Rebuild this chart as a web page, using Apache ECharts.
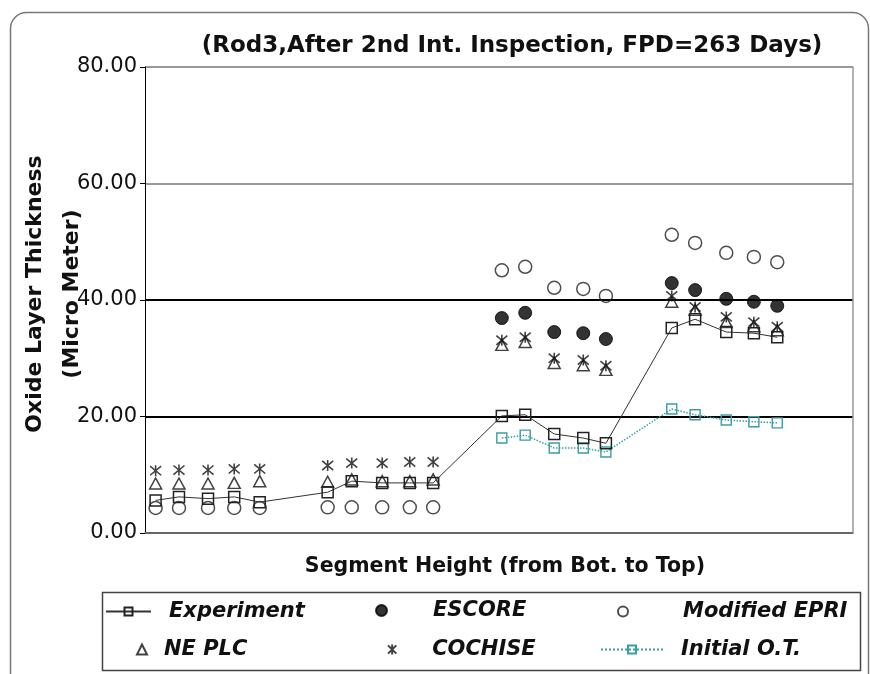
<!DOCTYPE html>
<html>
<head>
<meta charset="utf-8">
<script src="https://cdn.jsdelivr.net/npm/echarts@6/dist/echarts.min.js"></script>
<style>html,body{margin:0;padding:0;background:#fff;}#c{width:870px;height:674px;}</style>
</head>
<body>
<div id="c"></div>
<script>
// Segment positions (relative height units along the rod, 0-100)
var segX = [1.5,4.8,8.9,12.6,16.2, 25.8,29.2,33.5,37.4,40.7, 50.4,53.7,57.8,61.9,65.1, 74.4,77.7,82.1,86.0,89.3];
var experiment = [5.6,6.2,5.9,6.2,5.3, 7.0,8.9,8.6,8.6,8.6, 20.1,20.3,17.0,16.3,15.4, 35.2,36.7,34.5,34.3,33.6];
var escore = [null,null,null,null,null, null,null,null,null,null, 36.9,37.8,34.5,34.3,33.3, 42.9,41.7,40.2,39.7,39.0];
var modEpri = [4.3,4.3,4.3,4.3,4.3, 4.4,4.4,4.4,4.4,4.4, 45.1,45.7,42.1,41.9,40.7, 51.2,49.8,48.1,47.4,46.5];
var nePlc = [8.5,8.5,8.5,8.6,8.9, 8.8,9.2,8.9,8.9,9.2, 32.3,32.8,29.2,28.8,28.0, 39.7,38.3,36.2,35.5,34.8];
var cochise = [10.7,10.8,10.8,11.0,11.0, 11.6,12.0,12.0,12.2,12.2, 33.1,33.6,30.0,29.7,28.7, 40.7,38.8,37.1,36.2,35.4];
var initialOT = [null,null,null,null,null, null,null,null,null,null, 16.3,16.8,14.6,14.6,13.9, 21.3,20.3,19.4,19.1,18.9];
var yTicks = [0, 20, 40, 60, 80];

function pairs(vals) {
  var out = [];
  for (var i = 0; i < vals.length; i++) {
    if (vals[i] !== null) out.push([segX[i], vals[i]]);
  }
  return out;
}

var FONT = 'DejaVu Sans';
var asterisk = 'path://M0,0L10,10M10,0L0,10M5,-1L5,11';
var teal = '#3a9ea3';

function leg(name, icon, left, top, w, h, pad) {
  var item = {name: name};
  if (icon) item.icon = icon;
  return {data: [item], left: left, top: top, itemWidth: w, itemHeight: h, itemGap: 0, padding: 0,
    selectedMode: false,
    textStyle: {fontFamily: FONT, fontSize: 21, fontWeight: 'bold', fontStyle: 'italic', color: '#111',
      padding: [0, 0, 0, pad]}};
}

var chart = echarts.init(document.getElementById('c'), null, {renderer: 'canvas'});
chart.setOption({
  animation: false,
  backgroundColor: '#fff',
  grid: {left: 145, right: 17, top: 67, bottom: 141},
  xAxis: {
    type: 'value', min: 0, max: 100,
    axisLine: {show: true, lineStyle: {color: '#888', width: 1.5}},
    axisTick: {show: false}, axisLabel: {show: false}, splitLine: {show: false}
  },
  yAxis: [{
    type: 'value', min: yTicks[0], max: yTicks[yTicks.length - 1], interval: 20,
    axisLine: {show: true, lineStyle: {color: '#000', width: 1}},
    axisTick: {show: true, inside: false, length: 5, lineStyle: {color: '#000'}},
    axisLabel: {margin: 8, fontFamily: FONT, fontSize: 21, color: '#111',
      formatter: function (v) { return v.toFixed(2); }},
    splitLine: {show: true, lineStyle: {color: ['#000', '#000', '#000', '#999', '#999'], width: 1.8}}
  }, {
    type: 'value', min: 0, max: 80, position: 'right',
    axisLine: {show: true, lineStyle: {color: '#999', width: 1.5}},
    axisTick: {show: false}, axisLabel: {show: false}, splitLine: {show: false}
  }],
  legend: [
    leg('Experiment', null, 105, 601, 45, 10, 13),
    leg('ESCORE', 'circle', 375, 600, 11, 11, 41),
    leg('Modified EPRI', 'circle', 617, 601, 10, 10, 50),
    leg('NE PLC', 'triangle', 136, 639, 10, 10, 12),
    leg('COCHISE', asterisk, 387, 639, 10, 10, 30),
    leg('Initial O.T.', null, 600, 639, 62, 10, 13)
  ],
  series: [
    {name: 'Modified EPRI', type: 'scatter', data: pairs(modEpri), symbol: 'circle', symbolSize: 13,
      itemStyle: {color: 'rgba(0,0,0,0)', borderColor: '#222', borderWidth: 1.5}},
    {name: 'ESCORE', type: 'scatter', data: pairs(escore), symbol: 'circle', symbolSize: 13,
      itemStyle: {color: '#000', borderColor: '#000', borderWidth: 1}},
    {name: 'Initial O.T.', type: 'line', data: pairs(initialOT), symbol: 'rect', symbolSize: 10,
      lineStyle: {color: teal, width: 1.5, type: 'dotted'},
      itemStyle: {color: 'rgba(0,0,0,0)', borderColor: teal, borderWidth: 1.4}},
    {name: 'Experiment', type: 'line', data: pairs(experiment), symbol: 'rect', symbolSize: 11,
      lineStyle: {color: '#333', width: 1},
      itemStyle: {color: 'rgba(255,255,255,0)', borderColor: '#222', borderWidth: 1.5}},
    {name: 'NE PLC', type: 'scatter', data: pairs(nePlc), symbol: 'triangle', symbolSize: [12, 11],
      itemStyle: {color: 'rgba(0,0,0,0)', borderColor: '#111', borderWidth: 1.5}},
    {name: 'COCHISE', type: 'scatter', data: pairs(cochise), symbol: asterisk, symbolSize: 11,
      itemStyle: {color: '#111', borderColor: '#111', borderWidth: 1.6}}
  ],
  graphic: [
    {type: 'rect', left: 8, top: 10, z: -10, silent: true,
      shape: {width: 858, height: 700, r: 16}, style: {fill: 'none', stroke: '#777', lineWidth: 1.5}},
    {type: 'rect', left: 100, top: 590, silent: true,
      shape: {width: 758, height: 78}, style: {fill: 'none', stroke: '#444', lineWidth: 1.5}},
    {type: 'text', x: 512, y: 46, silent: true,
      style: {text: '(Rod3,After 2nd Int. Inspection, FPD=263 Days)', font: 'bold 23px "DejaVu Sans"',
        fill: '#111', textAlign: 'center', textVerticalAlign: 'middle'}},
    {type: 'text', x: 505, y: 567, silent: true,
      style: {text: 'Segment Height (from Bot. to Top)', font: 'bold 20.5px "DejaVu Sans"',
        fill: '#111', textAlign: 'center', textVerticalAlign: 'middle'}},
    {type: 'text', x: 35, y: 294, rotation: Math.PI / 2, silent: true,
      style: {text: 'Oxide Layer Thickness', font: 'bold 22px "DejaVu Sans"',
        fill: '#111', textAlign: 'center', textVerticalAlign: 'middle'}},
    {type: 'text', x: 72, y: 294, rotation: Math.PI / 2, silent: true,
      style: {text: '(Micro Meter)', font: 'bold 22px "DejaVu Sans"',
        fill: '#111', textAlign: 'center', textVerticalAlign: 'middle'}}
  ]
});
</script>
</body>
</html>
